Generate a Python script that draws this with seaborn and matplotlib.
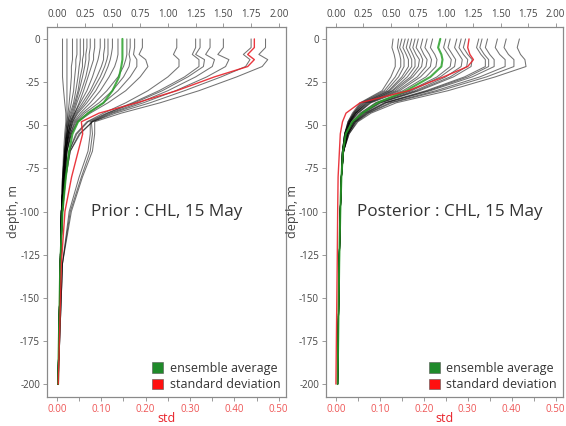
import matplotlib
matplotlib.use('Agg')
import matplotlib.pyplot as plt
import seaborn as sns
import pandas as pd
import numpy as np
from matplotlib.patches import Patch
from matplotlib.ticker import MultipleLocator

sns.set_theme(style='white')
plt.rcParams['font.family'] = ['Open Sans', 'DejaVu Sans']
plt.rcParams['axes.unicode_minus'] = False

# ---------------- data ----------------
depth = [0, -5, -9, -12, -16, -22, -30, -37, -43, -48, -55, -65, -80, -100, -130, -200]

# Prior ensemble members (CHL, top axis)
prior_m01 = [0.05, 0.05, 0.05, 0.05, 0.05, 0.05, 0.06, 0.07, 0.08, 0.08, 0.07, 0.06, 0.05, 0.04, 0.03, 0.01]
prior_m02 = [0.09, 0.09, 0.09, 0.09, 0.09, 0.09, 0.09, 0.09, 0.09, 0.09, 0.08, 0.07, 0.05, 0.04, 0.03, 0.01]
prior_m03 = [0.14, 0.14, 0.14, 0.14, 0.13, 0.13, 0.12, 0.11, 0.10, 0.09, 0.08, 0.07, 0.05, 0.04, 0.03, 0.01]
prior_m04 = [0.18, 0.18, 0.18, 0.17, 0.17, 0.16, 0.15, 0.13, 0.11, 0.10, 0.09, 0.07, 0.06, 0.04, 0.03, 0.01]
prior_m05 = [0.21, 0.21, 0.21, 0.21, 0.20, 0.19, 0.17, 0.15, 0.12, 0.10, 0.09, 0.07, 0.06, 0.04, 0.03, 0.01]
prior_m06 = [0.24, 0.24, 0.24, 0.23, 0.23, 0.21, 0.19, 0.16, 0.13, 0.11, 0.09, 0.07, 0.06, 0.04, 0.03, 0.01]
prior_m07 = [0.27, 0.27, 0.26, 0.26, 0.25, 0.23, 0.20, 0.17, 0.14, 0.11, 0.09, 0.08, 0.06, 0.04, 0.03, 0.01]
prior_m08 = [0.30, 0.30, 0.29, 0.29, 0.28, 0.26, 0.22, 0.18, 0.15, 0.12, 0.10, 0.08, 0.06, 0.04, 0.03, 0.01]
prior_m09 = [0.34, 0.34, 0.33, 0.33, 0.31, 0.28, 0.24, 0.20, 0.16, 0.12, 0.10, 0.08, 0.06, 0.04, 0.03, 0.01]
prior_m10 = [0.39, 0.39, 0.38, 0.37, 0.35, 0.32, 0.27, 0.21, 0.16, 0.13, 0.10, 0.08, 0.06, 0.04, 0.03, 0.01]
prior_m11 = [0.43, 0.43, 0.42, 0.42, 0.40, 0.36, 0.30, 0.23, 0.17, 0.13, 0.10, 0.08, 0.06, 0.04, 0.03, 0.01]
prior_m12 = [0.46, 0.46, 0.46, 0.45, 0.43, 0.39, 0.32, 0.25, 0.18, 0.14, 0.11, 0.08, 0.06, 0.04, 0.03, 0.01]
prior_m13 = [0.50, 0.50, 0.49, 0.48, 0.46, 0.42, 0.35, 0.27, 0.19, 0.14, 0.11, 0.08, 0.06, 0.04, 0.03, 0.01]
prior_m14 = [0.55, 0.55, 0.55, 0.54, 0.52, 0.47, 0.39, 0.30, 0.21, 0.15, 0.11, 0.08, 0.06, 0.04, 0.03, 0.01]
prior_m15 = [0.63, 0.63, 0.63, 0.62, 0.60, 0.55, 0.45, 0.34, 0.23, 0.16, 0.12, 0.09, 0.07, 0.05, 0.03, 0.01]
prior_m16 = [0.66, 0.66, 0.65, 0.66, 0.65, 0.60, 0.50, 0.38, 0.25, 0.17, 0.12, 0.09, 0.07, 0.05, 0.03, 0.01]
prior_m17 = [0.70, 0.70, 0.69, 0.72, 0.72, 0.66, 0.55, 0.42, 0.28, 0.18, 0.13, 0.09, 0.07, 0.05, 0.03, 0.01]
prior_m18 = [0.77, 0.77, 0.74, 0.80, 0.82, 0.75, 0.62, 0.46, 0.30, 0.19, 0.13, 0.09, 0.07, 0.05, 0.03, 0.01]
prior_m19 = [1.08, 1.08, 1.05, 1.10, 1.10, 1.00, 0.82, 0.62, 0.42, 0.27, 0.17, 0.11, 0.07, 0.05, 0.03, 0.01]
prior_m20 = [1.25, 1.25, 1.22, 1.28, 1.28, 1.15, 0.92, 0.68, 0.45, 0.28, 0.18, 0.11, 0.07, 0.05, 0.03, 0.01]
prior_m21 = [1.29, 1.29, 1.25, 1.33, 1.32, 1.18, 0.95, 0.70, 0.46, 0.30, 0.30, 0.28, 0.20, 0.11, 0.05, 0.01]
prior_m22 = [1.38, 1.38, 1.34, 1.42, 1.40, 1.25, 1.00, 0.74, 0.48, 0.31, 0.32, 0.30, 0.22, 0.12, 0.05, 0.01]
prior_m23 = [1.50, 1.50, 1.45, 1.55, 1.52, 1.35, 1.07, 0.78, 0.50, 0.32, 0.20, 0.12, 0.08, 0.05, 0.03, 0.01]
prior_m24 = [1.75, 1.75, 1.68, 1.74, 1.70, 1.48, 1.15, 0.84, 0.53, 0.32, 0.21, 0.12, 0.08, 0.05, 0.03, 0.01]
prior_m25 = [1.88, 1.88, 1.82, 1.90, 1.85, 1.62, 1.28, 0.93, 0.58, 0.34, 0.34, 0.32, 0.23, 0.13, 0.05, 0.01]
prior_mean = [0.59, 0.59, 0.59, 0.59, 0.58, 0.56, 0.50, 0.42, 0.28, 0.19, 0.14, 0.11, 0.08, 0.05, 0.03, 0.01]
prior_std = [0.445, 0.445, 0.43, 0.445, 0.43, 0.355, 0.27, 0.18, 0.095, 0.055, 0.058, 0.048, 0.033, 0.018, 0.010, 0.003]

# Posterior ensemble members (CHL, top axis)
post_m01 = [0.52, 0.51, 0.53, 0.54, 0.54, 0.50, 0.42, 0.22, 0.15, 0.11, 0.08, 0.06, 0.05, 0.04, 0.03, 0.015]
post_m02 = [0.57, 0.56, 0.58, 0.59, 0.59, 0.54, 0.44, 0.23, 0.16, 0.11, 0.08, 0.06, 0.05, 0.04, 0.03, 0.015]
post_m03 = [0.60, 0.58, 0.61, 0.62, 0.62, 0.57, 0.46, 0.24, 0.16, 0.12, 0.08, 0.06, 0.05, 0.04, 0.03, 0.015]
post_m04 = [0.63, 0.61, 0.64, 0.66, 0.66, 0.60, 0.48, 0.25, 0.17, 0.12, 0.08, 0.06, 0.05, 0.04, 0.03, 0.015]
post_m05 = [0.66, 0.64, 0.67, 0.69, 0.69, 0.62, 0.49, 0.26, 0.17, 0.12, 0.08, 0.06, 0.05, 0.04, 0.03, 0.015]
post_m06 = [0.69, 0.67, 0.70, 0.72, 0.72, 0.65, 0.51, 0.27, 0.18, 0.12, 0.09, 0.06, 0.05, 0.04, 0.03, 0.015]
post_m07 = [0.72, 0.70, 0.73, 0.76, 0.75, 0.68, 0.52, 0.28, 0.18, 0.13, 0.09, 0.06, 0.05, 0.04, 0.03, 0.015]
post_m08 = [0.75, 0.73, 0.77, 0.79, 0.78, 0.70, 0.54, 0.29, 0.18, 0.13, 0.09, 0.06, 0.05, 0.04, 0.03, 0.015]
post_m09 = [0.79, 0.77, 0.80, 0.83, 0.82, 0.74, 0.56, 0.30, 0.19, 0.13, 0.09, 0.06, 0.05, 0.04, 0.03, 0.015]
post_m10 = [0.83, 0.81, 0.85, 0.87, 0.86, 0.77, 0.58, 0.31, 0.20, 0.13, 0.09, 0.06, 0.05, 0.04, 0.03, 0.015]
post_m11 = [0.88, 0.86, 0.90, 0.92, 0.91, 0.82, 0.61, 0.32, 0.20, 0.14, 0.09, 0.06, 0.05, 0.04, 0.03, 0.015]
post_m12 = [1.00, 0.98, 1.02, 1.05, 1.04, 0.92, 0.67, 0.36, 0.22, 0.15, 0.10, 0.07, 0.05, 0.04, 0.03, 0.015]
post_m13 = [1.04, 1.02, 1.06, 1.09, 1.08, 0.95, 0.69, 0.37, 0.23, 0.15, 0.10, 0.07, 0.05, 0.04, 0.03, 0.015]
post_m14 = [1.10, 1.08, 1.12, 1.15, 1.14, 1.00, 0.72, 0.39, 0.24, 0.16, 0.10, 0.07, 0.05, 0.04, 0.03, 0.015]
post_m15 = [1.14, 1.12, 1.16, 1.20, 1.19, 1.04, 0.74, 0.40, 0.24, 0.16, 0.10, 0.07, 0.05, 0.04, 0.03, 0.015]
post_m16 = [1.18, 1.16, 1.20, 1.24, 1.23, 1.07, 0.76, 0.41, 0.25, 0.16, 0.10, 0.07, 0.05, 0.04, 0.03, 0.015]
post_m17 = [1.30, 1.28, 1.32, 1.36, 1.36, 1.17, 0.82, 0.44, 0.26, 0.17, 0.11, 0.07, 0.05, 0.04, 0.03, 0.015]
post_m18 = [1.33, 1.31, 1.35, 1.39, 1.39, 1.20, 0.84, 0.45, 0.27, 0.17, 0.11, 0.07, 0.05, 0.04, 0.03, 0.015]
post_m19 = [1.38, 1.36, 1.40, 1.44, 1.44, 1.24, 0.86, 0.46, 0.28, 0.18, 0.11, 0.07, 0.05, 0.04, 0.03, 0.015]
post_m20 = [1.47, 1.45, 1.49, 1.54, 1.54, 1.31, 0.91, 0.49, 0.29, 0.18, 0.11, 0.07, 0.05, 0.04, 0.03, 0.015]
post_m21 = [1.55, 1.53, 1.57, 1.62, 1.62, 1.37, 0.95, 0.51, 0.30, 0.19, 0.12, 0.07, 0.05, 0.04, 0.03, 0.015]
post_m22 = [1.67, 1.65, 1.68, 1.72, 1.73, 1.45, 1.02, 0.55, 0.32, 0.20, 0.12, 0.07, 0.05, 0.04, 0.03, 0.015]
post_mean = [0.95, 0.93, 0.96, 0.97, 0.96, 0.86, 0.64, 0.38, 0.24, 0.15, 0.09, 0.065, 0.05, 0.04, 0.03, 0.015]
post_std = [0.303, 0.300, 0.305, 0.313, 0.300, 0.245, 0.165, 0.055, 0.023, 0.015, 0.010, 0.008, 0.005, 0.004, 0.003, 0.000]

prior_members = [prior_m01, prior_m02, prior_m03, prior_m04, prior_m05, prior_m06, prior_m07,
                 prior_m08, prior_m09, prior_m10, prior_m11, prior_m12, prior_m13, prior_m14,
                 prior_m15, prior_m16, prior_m17, prior_m18, prior_m19, prior_m20, prior_m21,
                 prior_m22, prior_m23, prior_m24, prior_m25]
post_members = [post_m01, post_m02, post_m03, post_m04, post_m05, post_m06, post_m07, post_m08,
                post_m09, post_m10, post_m11, post_m12, post_m13, post_m14, post_m15, post_m16,
                post_m17, post_m18, post_m19, post_m20, post_m21, post_m22]

top_ticks = [0.00, 0.25, 0.50, 0.75, 1.00, 1.25, 1.50, 1.75, 2.00]
bottom_ticks = [0.00, 0.10, 0.20, 0.30, 0.40, 0.50]
depth_ticks = [0, -25, -50, -75, -100, -125, -150, -175, -200]
titles = ['Prior : CHL, 15 May', 'Posterior : CHL, 15 May']
legend_labels = ['ensemble average', 'standard deviation']

# ---------------- style ----------------
GREEN = '#2aa02a'
RED = '#e8222a'
LEG_GREEN = '#1f8a2a'
TICK_GRAY = '#444444'
RED_TICK = '#ee5555'
SPINE = '#8a8a8a'

fig = plt.figure(figsize=(5.66, 4.26), dpi=100)
fig.patch.set_facecolor('white')

panels = [
    (prior_members, prior_mean, prior_std, titles[0], [0.083, 0.068, 0.422, 0.869], 0.50),
    (post_members, post_mean, post_std, titles[1], [0.576, 0.068, 0.418, 0.869], 0.525),
]

for members, mean, std, title, rect, tx in panels:
    ax = fig.add_axes(rect)          # bottom axis: std
    axt = ax.twiny()                 # top axis: CHL
    ax.set_zorder(axt.get_zorder() + 1)
    ax.patch.set_visible(False)

    rows = []
    for i, m in enumerate(members):
        for d, v in zip(depth, m):
            rows.append({'member': i, 'depth': d, 'value': v})
    df = pd.DataFrame(rows)
    sns.lineplot(data=df, x='value', y='depth', units='member', estimator=None,
                 sort=False, orient='y', color='black', lw=0.75, alpha=0.55, ax=axt)
    dmean = pd.DataFrame({'depth': depth, 'value': mean})
    sns.lineplot(data=dmean, x='value', y='depth', sort=False, orient='y',
                 color=GREEN, lw=1.5, alpha=0.85, ax=axt)
    dstd = pd.DataFrame({'depth': depth, 'value': std})
    sns.lineplot(data=dstd, x='value', y='depth', sort=False, orient='y',
                 color=RED, lw=1.0, alpha=0.9, ax=ax)

    axt.set_xlim(-0.09, 2.063)
    ax.set_xlim(-0.0225, 0.516)
    ax.set_ylim(-207.5, 7)
    axt.set_ylim(-207.5, 7)

    axt.set_xticks(top_ticks)
    axt.set_xticklabels(['%.2f' % t for t in top_ticks])
    axt.set_xlabel('')
    ax.set_xticks(bottom_ticks)
    ax.set_xticklabels(['%.2f' % t for t in bottom_ticks])
    ax.xaxis.set_minor_locator(MultipleLocator(0.05))
    ax.set_yticks(depth_ticks)
    ax.set_yticklabels([str(t) for t in depth_ticks])

    ax.tick_params(axis='x', which='both', bottom=True, direction='out', length=3, width=0.6,
                   color=SPINE, labelcolor=RED_TICK, labelsize=7, pad=2)
    ax.tick_params(axis='y', left=True, direction='out', length=3, width=0.6,
                   color=SPINE, labelcolor=TICK_GRAY, labelsize=7, pad=2)
    axt.tick_params(axis='x', top=True, direction='out', length=3, width=0.6,
                    color=SPINE, labelcolor=TICK_GRAY, labelsize=7, pad=2)
    for a in (ax, axt):
        for s in a.spines.values():
            s.set_color(SPINE)
            s.set_linewidth(0.8)

    ax.set_xlabel('std', color=RED, fontsize=9, labelpad=-2)
    ax.set_ylabel('depth, m', color=TICK_GRAY, fontsize=9, labelpad=0)

    ax.text(tx, 0.5, title, transform=ax.transAxes, ha='center', va='center',
            fontsize=12.3, color='#333333')

    handles = [Patch(facecolor=LEG_GREEN, edgecolor='#555555', lw=0.4),
               Patch(facecolor='#ff1010', edgecolor='#555555', lw=0.4)]
    leg = ax.legend(handles, legend_labels, loc='lower right', frameon=False,
                    fontsize=9, handlelength=0.9, handleheight=0.9, handletextpad=0.5,
                    labelspacing=0.3, borderaxespad=0.05)
    for t in leg.get_texts():
        t.set_color('#333333')

fig.savefig('out.png', dpi=100, facecolor='white')
